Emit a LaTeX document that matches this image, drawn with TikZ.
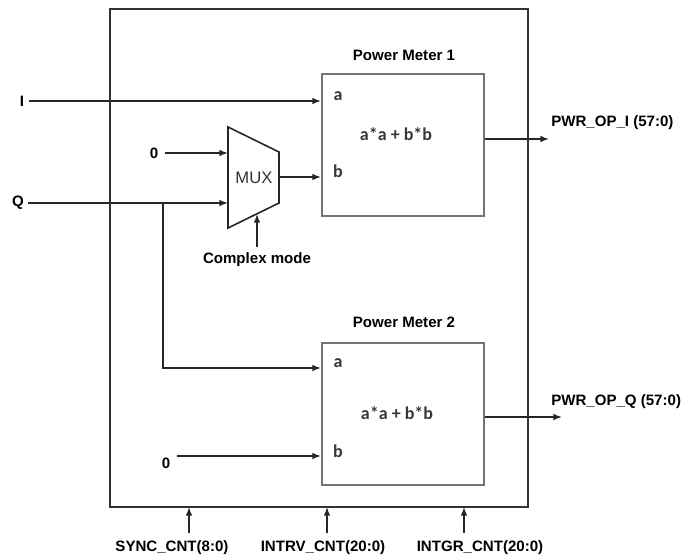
\documentclass[tikz,border=0pt]{standalone}
\usepackage{fontspec}
\setmainfont{Liberation Sans}
\newfontfamily\boxfont{Carlito}
\usetikzlibrary{arrows.meta}
\tikzset{
  wire/.style={line width=1.1pt, draw=black!85, -{Latex[length=6.5pt,width=5pt]}},
  plainwire/.style={line width=1.1pt, draw=black!85},
  lbl/.style={font=\fontsize{11.3}{13}\selectfont\bfseries, inner sep=0pt},
  pm/.style={draw=black!55, line width=1.2pt},
  boxtxt/.style={font=\boxfont\bfseries\fontsize{13.5}{15}\selectfont, text=black!78, inner sep=0pt},
}
\begin{document}
\begin{tikzpicture}[x=0.75pt,y=-0.75pt]
\useasboundingbox (0,0) rectangle (685,554);
% outer box
\draw[draw=black!80, line width=1.5pt] (110,9) rectangle (528,507);
% power meter boxes
\node[pm, minimum width=121.5pt, minimum height=106.5pt, anchor=north west, inner sep=0pt] (pm1) at (321,73) {};
\node[pm, minimum width=121.5pt, minimum height=106.5pt, anchor=north west, inner sep=0pt] (pm2) at (321,342) {};
\node[lbl] (t1) at (404,55) {Power Meter 1};
\node[lbl] (t2) at (404,322) {Power Meter 2};
\node[boxtxt] (f1) at (396,134) {a*a + b*b};
\node[boxtxt] (f2) at (397,413) {a*a + b*b};
\node[boxtxt] (a1) at (338,96) {a};
\node[boxtxt] (b1) at (338,171) {b};
\node[boxtxt] (a2) at (338,363) {a};
\node[boxtxt] (b2) at (338,451) {b};
% input connection points
\coordinate (pm1a) at (321,101);
\coordinate (pm1b) at (321,177);
\coordinate (pm2a) at (321,368);
\coordinate (pm2b) at (321,456);
% MUX
\draw[plainwire, line width=1.2pt] (228,127) -- (279,152) -- (279,203) -- (228,228) -- cycle;
\node[font=\fontsize{12.5}{14}\selectfont, text=black!80, inner sep=0pt] (mux) at (254,178) {MUX};
\coordinate (mux0) at (228,153);
\coordinate (muxq) at (228,203);
\coordinate (muxo) at (279,177);
\coordinate (muxs) at (257,214);
% left labels
\node[lbl] (I) at (22,101) {I};
\node[lbl] (Q) at (18,203) {Q};
\node[lbl] (z1) at (154,153) {0};
\node[lbl] (z2) at (166,463) {0};
\node[lbl] (cm) at (257,260) {Complex mode};
% wires
\draw[wire] (I.east)++(5,0) -- (pm1a);
\draw[wire] (z1.east)++(7,0) -- (mux0);
\draw[wire] (Q.east)++(4,0) -- (muxq);
\draw[wire] (muxo) -- (pm1b);
\draw[wire] (cm.north)++(0,-6) -- (muxs);
\coordinate (br) at (163,203);
\draw[wire] (br) |- (pm2a);
\draw[wire] (z2.east)++(7,-7) -- (pm2b);
% outputs
\node[lbl, anchor=west] (o1) at (551,123) {PWR\_OP\_I (57:0)};
\node[lbl, anchor=west] (o2) at (551,402) {PWR\_OP\_Q (57:0)};
\coordinate (o1e) at (549,139);
\coordinate (o2e) at (562,417);
\draw[wire] (pm1.east |- o1e) -- (o1e);
\draw[wire] (pm2.east |- o2e) -- (o2e);
% bottom counters
\node[lbl] (s1) at (172,548) {SYNC\_CNT(8:0)};
\node[lbl] (s2) at (323,548) {INTRV\_CNT(20:0)};
\node[lbl] (s3) at (480,548) {INTGR\_CNT(20:0)};
\coordinate (e1) at (189,507);
\coordinate (e2) at (327,507);
\coordinate (e3) at (464,507);
\draw[wire] (189,533) -- (e1);
\draw[wire] (327,533) -- (e2);
\draw[wire] (464,533) -- (e3);
\end{tikzpicture}
\end{document}
